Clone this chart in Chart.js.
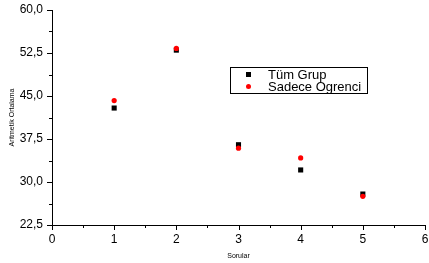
<!DOCTYPE html>
<html>
<head>
<meta charset="utf-8">
<script src="https://cdn.jsdelivr.net/npm/chart.js@4.4.0/dist/chart.umd.min.js"></script>
<style>
  html, body { margin: 0; padding: 0; background: #fff; }
  #wrap { width: 429px; height: 263px; }
</style>
</head>
<body>
<div id="wrap"><canvas id="chart" width="429" height="263"></canvas></div>
<script>
// values
var sorular = [1, 2, 3, 4, 5];
var tumGrup = [42.9, 53.0, 36.5, 32.1, 27.9];
var sadeceOgrenci = [44.2, 53.3, 35.9, 34.2, 27.5];
var seriesNames = ["Tüm Grup", "Sadece Ogrenci"];

function toPoints(xs, ys) {
  return xs.map(function (x, i) { return { x: x, y: ys[i] }; });
}

// minor/major tick marks drawn outward from the axes
var tickMarks = {
  id: 'tickMarks',
  afterDraw: function (chart) {
    var ctx = chart.ctx, xs = chart.scales.x, ys = chart.scales.y;
    var a = chart.chartArea;
    ctx.save();
    ctx.strokeStyle = '#000';
    ctx.lineWidth = 1;
    ctx.beginPath();
    for (var v = 0; v <= 6.001; v += 0.5) {
      var px = Math.round(xs.getPixelForValue(v)) + 0.5;
      var len = (Math.abs(v - Math.round(v)) < 0.01) ? 5 : 3;
      ctx.moveTo(px, a.bottom);
      ctx.lineTo(px, a.bottom + len);
    }
    for (var k = 0; k <= 10; k++) {
      var val = 22.5 + 3.75 * k;
      var py = Math.round(ys.getPixelForValue(val)) + 0.5;
      var l2 = (k % 2 === 0) ? 5 : 3;
      ctx.moveTo(a.left, py);
      ctx.lineTo(a.left - l2, py);
    }
    ctx.stroke();
    ctx.restore();
  }
};

// legend box placed inside the plot
var boxLegend = {
  id: 'boxLegend',
  afterDraw: function (chart) {
    var ctx = chart.ctx;
    var x0 = 230.5, y0 = 67.5, w = 137, h = 26;
    ctx.save();
    ctx.fillStyle = '#fff';
    ctx.fillRect(x0, y0, w, h);
    ctx.strokeStyle = '#000';
    ctx.lineWidth = 1;
    ctx.strokeRect(x0, y0, w, h);
    ctx.font = '13px "Liberation Sans", Arial, sans-serif';
    ctx.textBaseline = 'middle';
    var order = [0, 1];
    order.forEach(function (di, row) {
      var ds = chart.data.datasets[di];
      var cy = y0 + 7 + row * 12;
      ctx.fillStyle = ds.backgroundColor;
      if (ds.pointStyle === 'rect') {
        ctx.fillRect(246, cy - 2.5, 5, 5);
      } else {
        ctx.beginPath();
        ctx.arc(248.5, cy, 2.5, 0, Math.PI * 2);
        ctx.fill();
      }
      ctx.fillStyle = '#000';
      ctx.fillText(ds.label, 268, cy + 0.5);
    });
    ctx.restore();
  }
};

new Chart(document.getElementById('chart'), {
  type: 'scatter',
  data: {
    datasets: [{
      label: seriesNames[0],
      data: toPoints(sorular, tumGrup),
      pointStyle: 'rect',
      pointRadius: 3.6,
      backgroundColor: '#000',
      borderColor: '#000',
      borderWidth: 0,
      order: 2
    }, {
      label: seriesNames[1],
      data: toPoints(sorular, sadeceOgrenci),
      pointStyle: 'circle',
      pointRadius: 2.6,
      backgroundColor: '#ff0000',
      borderColor: '#ff0000',
      borderWidth: 0,
      order: 1
    }]
  },
  options: {
    responsive: false,
    animation: false,
    layout: { padding: { top: 10, right: 2, left: 0, bottom: 0 } },
    plugins: { legend: { display: false }, tooltip: { enabled: false } },
    scales: {
      x: {
        type: 'linear',
        min: 0, max: 6,
        grid: { drawOnChartArea: false, drawTicks: false },
        border: { display: true, color: '#000', width: 1 },
        ticks: {
          stepSize: 1, padding: 7, color: '#000',
          font: { family: '"Liberation Sans", Arial, sans-serif', size: 12 }
        },
        title: {
          display: true, text: 'Sorular', color: '#000',
          font: { family: '"Liberation Sans", Arial, sans-serif', size: 7 },
          padding: { top: 0, bottom: 3 }
        },
        afterFit: function (s) { s.height = 38; s.paddingLeft = 0; s.paddingRight = 0; }
      },
      y: {
        min: 22.5, max: 60,
        grid: { drawOnChartArea: false, drawTicks: false },
        border: { display: true, color: '#000', width: 1 },
        ticks: {
          stepSize: 7.5, padding: 9, color: '#000',
          font: { family: '"Liberation Sans", Arial, sans-serif', size: 12 },
          callback: function (v) { return v.toFixed(1).replace('.', ','); }
        },
        title: {
          display: true, text: 'Aritmetik Ortalama', color: '#000',
          font: { family: '"Liberation Sans", Arial, sans-serif', size: 7 },
          padding: { top: 8, bottom: 0 }
        },
        afterFit: function (s) { s.width = 52; s.paddingTop = 0; s.paddingBottom = 0; }
      }
    }
  },
  plugins: [tickMarks, boxLegend]
});
</script>
</body>
</html>
